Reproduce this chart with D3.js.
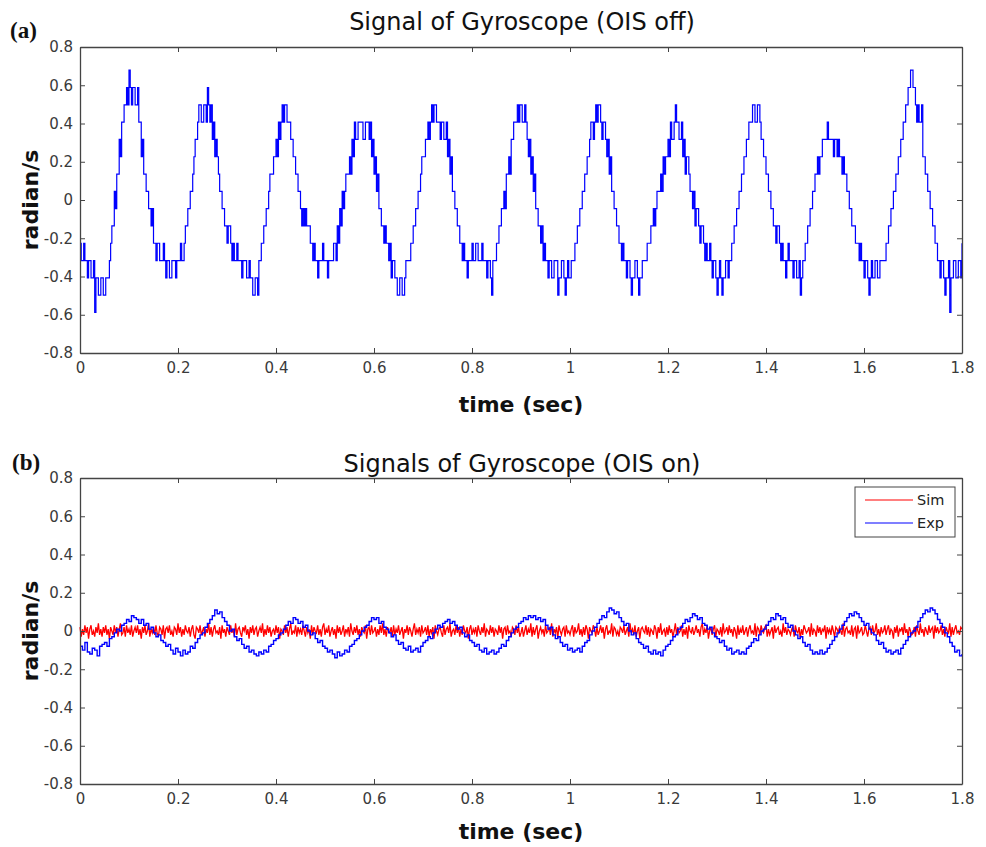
<!DOCTYPE html>
<html>
<head>
<meta charset="utf-8">
<script src="https://cdn.jsdelivr.net/npm/d3@7"></script>
<style>
  body { margin: 0; background: #fff; }
  svg text { font-family: "DejaVu Sans", Arial, sans-serif; }
  .axis path, .axis line { stroke: #444; }
</style>
</head>
<body>
<script>
// tick labels shared by both panels
var xTicks = [0, 0.2, 0.4, 0.6, 0.8, 1, 1.2, 1.4, 1.6, 1.8];
var yTicks = [-0.8, -0.6, -0.4, -0.2, 0, 0.2, 0.4, 0.6, 0.8];

var offStep = 0.0025;     // sec between gyro samples, panel (a)
var expStep = 0.005;      // sec between gyro samples, panel (b)
var simStep = 0.0025;     // sec between simulated samples
var gyroStep = 0.0905;    // rad/s per gyro count

var offCounts = [
  -3,-4,-4,-3,-4,-4,-5,-4,-4,-5,-5,-4,-7,-5,-5,-6,-6,-5,-5,-6,-6,-5,-5,-5,
  -4,-3,-2,-2,0,-1,1,1,3,2,4,4,5,5,
  6,5,7,6,5,6,6,5,5,6,
  4,4,2,3,1,1,0,0,-1,-1,-2,-1,-3,-3,-4,-3,
  -3,-4,-4,-4,-3,-4,-5,-4,-4,-5,-5,-4,-4,-4,-5,-4,-4,-4,-3,-4,
  -4,-3,-2,-2,-1,-1,0,0,1,2,3,3,4,5,5,4,
  4,5,5,4,6,5,4,5,
  3,4,2,3,2,1,0,0,-1,-1,-2,-2,-3,-2,-2,-3,-4,-3,
  -4,-4,-3,-4,-4,-4,-5,-4,-4,-4,-5,-5,-4,-5,-5,-6,-6,-5,-5,-6,-4,-4,
  -3,-3,-2,-2,-1,-1,0,1,1,1,2,2,3,2,4,3,
  4,5,4,5,5,4,4,4,
  3,3,2,2,1,1,0,0,-1,-2,-1,-2,-1,-2,-2,-2,-3,-3,-4,-3,
  -4,-4,-5,-4,-4,-4,-3,-4,-4,-4,-5,-4,-4,-4,-4,-3,-3,-4,
  -2,-3,-1,-2,0,-1,0,1,1,1,2,1,3,2,4,3,
  3,4,4,4,4,3,3,4,4,4,3,4,
  2,3,1,2,0,1,-1,-1,-2,-2,-3,-2,-3,-3,-4,-3,
  -5,-4,-4,-5,-5,-6,-6,-5,-5,-6,-6,-5,-4,-4,-4,-4,
  -3,-3,-2,-2,-1,-1,0,0,1,2,2,2,3,3,4,3,
  4,5,4,5,5,4,4,4,3,4,4,3,3,4,
  2,3,1,2,0,0,-1,-1,-2,-2,-3,-3,-4,-3,
  -4,-4,-5,-4,-4,-4,-3,-4,-4,-3,-3,-4,-4,-4,-3,-4,-4,-4,-5,-4,-4,-5,-6,-4,-4,-4,
  -3,-3,-2,-2,-1,-1,0,-1,1,1,2,1,3,3,4,4,
  4,5,4,5,5,4,4,5,4,3,
  2,3,1,2,0,1,-1,-1,-2,-2,-3,-2,-4,-3,-4,-4,
  -5,-4,-4,-5,-5,-4,-4,-4,-6,-5,-5,-4,-4,-5,-6,-5,-4,-5,-5,-4,-4,-4,
  -3,-3,-2,-2,-1,-1,0,0,1,1,2,2,3,4,4,3,
  4,5,4,5,5,4,3,4,
  4,3,2,3,1,2,0,0,-1,-1,-2,-2,-3,-3,-4,-3,
  -4,-4,-5,-4,-4,-5,-6,-5,-5,-4,-4,-5,-6,-5,-5,-4,-4,-4,-4,-3,-3,-3,
  -2,-2,-1,-2,-1,0,0,0,1,0,2,1,2,2,3,2,4,3,3,4,5,4,
  4,3,3,4,
  2,3,1,2,2,1,0,0,-1,0,-2,-1,-1,-2,-3,-2,-2,-3,-4,-3,
  -4,-4,-3,-4,-5,-4,-4,-5,-6,-5,-4,-5,-6,-5,-5,-4,-4,-5,-4,-4,
  -3,-3,-2,-2,-1,-1,0,0,1,1,2,2,3,3,4,4,4,5,5,4,
  4,5,5,4,
  3,3,2,2,1,1,0,0,-1,-1,-2,-2,-3,-2,-2,-3,-4,-3,
  -4,-4,-5,-4,-3,-4,-4,-4,-5,-4,-4,-5,-5,-4,-6,-5,-4,-4,
  -3,-3,-2,-2,-1,-1,0,0,1,1,2,1,2,2,3,3,
  3,3,4,3,3,3,3,2,3,3,2,3,
  2,2,1,2,1,1,0,0,-1,-1,-2,-2,-2,-3,-3,-3,-4,-3,
  -4,-4,-5,-4,-4,-5,-6,-5,-4,-5,-5,-4,-4,-5,-5,-4,-4,-4,-4,-4,
  -3,-3,-2,-2,-1,-1,0,0,1,1,2,2,3,3,4,4,5,5,6,6,
  7,7,6,6,
  5,4,5,4,4,5,2,2,1,1,0,0,-1,-1,-2,-2,-3,-3,
  -4,-4,-5,-4,-4,-5,-6,-5,-5,-4,-7,-5,-5,-4,-4,-5,-5,-4,-4,-5,-3
];

// (b) OIS on, measured (Exp), rad/s
var expOn = [
  -0.08,-0.10,-0.06,-0.11,-0.12,-0.09,-0.10,-0.13,-0.08,-0.07,
  -0.06,-0.08,-0.04,-0.03,-0.01,0.01,0.00,0.03,0.04,0.06,
  0.05,0.08,0.07,0.06,0.04,0.06,0.03,0.04,0.01,0.02,
  -0.01,-0.03,-0.02,-0.05,-0.06,-0.08,-0.07,-0.10,-0.12,-0.09,
  -0.11,-0.13,-0.10,-0.12,-0.11,-0.08,-0.09,-0.06,-0.04,-0.02,
  -0.01,0.02,0.04,0.06,0.08,0.11,0.09,0.10,0.07,0.05,
  0.03,0.00,0.01,-0.03,-0.05,-0.04,-0.07,-0.09,-0.08,-0.11,
  -0.10,-0.12,-0.13,-0.11,-0.12,-0.10,-0.11,-0.08,-0.07,-0.05,
  -0.04,-0.02,-0.01,0.01,0.03,0.05,0.04,0.07,0.06,0.04,
  0.05,0.02,0.03,0.00,-0.02,-0.01,-0.04,-0.06,-0.05,-0.08,
  -0.09,-0.11,-0.10,-0.12,-0.14,-0.11,-0.13,-0.12,-0.10,-0.11,
  -0.08,-0.07,-0.05,-0.04,-0.02,0.00,0.02,0.03,0.05,0.07,
  0.06,0.07,0.04,0.05,0.02,0.01,-0.01,-0.03,-0.02,-0.05,
  -0.07,-0.06,-0.09,-0.10,-0.08,-0.11,-0.10,-0.09,-0.11,-0.08,
  -0.06,-0.05,-0.03,-0.04,-0.01,0.01,0.03,0.02,0.04,0.05,
  0.06,0.04,0.05,0.03,0.01,0.02,-0.01,-0.03,-0.02,-0.05,
  -0.06,-0.08,-0.07,-0.10,-0.11,-0.09,-0.12,-0.11,-0.10,-0.12,
  -0.11,-0.09,-0.07,-0.08,-0.05,-0.03,-0.01,0.01,0.02,0.04,
  0.05,0.07,0.06,0.08,0.07,0.08,0.06,0.07,0.05,0.06,
  0.03,0.01,0.02,-0.02,-0.04,-0.03,-0.06,-0.08,-0.07,-0.10,
  -0.09,-0.11,-0.10,-0.09,-0.11,-0.08,-0.06,-0.05,-0.02,0.00,
  0.02,0.04,0.06,0.08,0.07,0.10,0.12,0.11,0.09,0.10,
  0.07,0.05,0.03,0.04,0.00,-0.02,-0.01,-0.04,-0.06,-0.07,
  -0.09,-0.08,-0.11,-0.12,-0.10,-0.12,-0.11,-0.13,-0.10,-0.08,
  -0.07,-0.05,-0.03,-0.02,0.01,0.02,0.04,0.06,0.05,0.07,
  0.09,0.08,0.06,0.07,0.04,0.03,0.01,0.02,-0.01,-0.03,
  -0.04,-0.06,-0.05,-0.08,-0.10,-0.09,-0.12,-0.11,-0.10,-0.12,
  -0.11,-0.12,-0.09,-0.08,-0.06,-0.04,-0.05,-0.02,0.00,0.01,
  0.03,0.05,0.07,0.06,0.09,0.08,0.06,0.07,0.04,0.02,
  0.03,0.00,-0.02,-0.04,-0.03,-0.06,-0.08,-0.07,-0.10,-0.12,
  -0.11,-0.12,-0.10,-0.12,-0.11,-0.09,-0.07,-0.05,-0.03,-0.01,
  0.01,0.03,0.05,0.07,0.09,0.08,0.10,0.09,0.07,0.05,
  0.03,0.04,0.01,-0.01,-0.02,-0.05,-0.07,-0.06,-0.09,-0.11,
  -0.10,-0.12,-0.11,-0.10,-0.12,-0.09,-0.07,-0.05,-0.03,-0.01,
  0.00,0.02,0.05,0.07,0.09,0.11,0.10,0.12,0.11,0.09,
  0.06,0.04,0.02,-0.01,-0.03,-0.06,-0.08,-0.11,-0.10,-0.13,-0.12
];

// (b) OIS on, simulated (Sim), rad/s
var simOn = [
  0.02,-0.03,0.01,-0.02,0.03,-0.01,0.02,-0.04,0.01,0.03,-0.02,0.00,-0.03,0.02,-0.01,0.04,-0.02,0.01,-0.03,0.02,
  -0.01,0.03,-0.02,0.01,-0.04,0.02,0.00,-0.02,0.03,-0.01,0.02,-0.03,0.01,0.04,-0.02,-0.01,0.02,-0.03,0.03,-0.01,
  0.01,-0.02,0.03,-0.03,0.00,0.02,-0.01,0.03,-0.02,0.01,-0.04,0.02,-0.01,0.03,-0.02,0.00,0.04,-0.03,0.01,-0.01,
  0.02,-0.02,0.03,-0.01,-0.03,0.02,0.01,-0.02,0.03,-0.04,0.01,0.02,-0.01,0.03,-0.02,0.00,-0.03,0.02,0.01,-0.02,
  0.04,-0.01,0.02,-0.03,0.01,-0.02,0.03,0.00,-0.01,0.02,-0.03,0.01,0.03,-0.02,-0.04,0.02,0.01,-0.01,0.03,-0.02,
  0.00,0.02,-0.03,0.01,-0.01,0.04,-0.02,0.02,-0.03,0.01,0.03,-0.01,0.00,-0.02,0.02,-0.04,0.03,-0.01,0.01,-0.03,
  0.02,0.00,-0.02,0.03,-0.01,0.01,-0.03,0.04,-0.02,0.01,0.02,-0.01,-0.03,0.02,0.00,0.03,-0.02,0.01,-0.04,0.02,
  -0.01,0.03,-0.02,0.01,0.02,-0.03,0.00,0.02,-0.01,0.04,-0.03,0.01,-0.02,0.03,-0.01,0.02,-0.03,0.00,0.01,-0.02,
  0.03,-0.01,0.02,-0.04,0.01,0.00,-0.02,0.03,-0.01,0.02,-0.03,0.01,0.04,-0.02,0.00,-0.01,0.03,-0.03,0.02,-0.01,
  0.01,-0.02,0.03,0.00,-0.03,0.02,-0.01,0.01,-0.04,0.03,-0.02,0.02,0.00,-0.01,0.03,-0.02,0.01,-0.03,0.02,0.04,
  -0.02,0.01,-0.01,0.03,-0.03,0.00,0.02,-0.02,0.01,-0.04,0.03,-0.01,0.02,-0.02,0.00,0.03,-0.03,0.01,-0.01,0.02,
  -0.03,0.04,0.00,-0.02,0.02,-0.01,0.03,-0.02,0.01,-0.03,0.02,0.00,-0.01,0.03,-0.04,0.01,0.02,-0.02,0.03,-0.01,
  0.00,0.02,-0.03,0.01,-0.02,0.03,-0.01,0.04,-0.02,0.01,-0.03,0.02,0.00,-0.01,0.02,-0.03,0.03,-0.02,0.01,-0.01,
  0.03,-0.02,0.00,0.02,-0.04,0.01,-0.01,0.03,-0.02,0.02,0.00,-0.03,0.01,0.04,-0.02,0.01,-0.01,0.02,-0.03,0.03,
  -0.01,0.00,0.02,-0.02,0.03,-0.03,0.01,-0.01,0.02,-0.04,0.03,0.00,-0.02,0.01,0.02,-0.01,-0.03,0.03,-0.02,0.01,
  0.02,-0.01,0.04,-0.03,0.00,0.01,-0.02,0.03,-0.01,0.02,-0.03,0.01,-0.02,0.03,0.00,-0.01,0.02,-0.04,0.01,0.03,
  -0.02,0.01,-0.01,0.02,-0.03,0.03,0.00,-0.02,0.02,-0.01,0.04,-0.03,0.01,0.00,-0.02,0.03,-0.01,0.02,-0.03,0.01,
  0.00,-0.02,0.03,-0.01,0.02,-0.04,0.01,0.02,-0.02,0.03,-0.01,0.00,-0.03,0.02,0.01,-0.02,0.03,-0.01,0.02,-0.03,
  -0.01,0.02,-0.03,0.00,0.03,-0.02,0.01,-0.01,0.04,-0.03,0.02,-0.02,0.01,0.03,-0.04,0.00,0.02,-0.01,0.01,-0.03,
  0.03,-0.01,0.00,0.02,-0.02,0.04,-0.03,0.01,-0.01,0.02,-0.04,0.03,0.00,-0.02,0.01,0.02,-0.03,0.03,-0.01,0.00,
  -0.02,0.01,0.03,-0.03,0.02,-0.01,0.00,0.04,-0.02,0.01,-0.03,0.02,-0.02,0.03,0.01,-0.04,0.02,0.00,-0.01,0.03,
  0.01,-0.03,0.02,-0.02,0.00,0.03,-0.01,0.02,-0.04,0.01,0.03,-0.02,0.00,-0.01,0.04,-0.03,0.02,0.01,-0.02,0.00,
  -0.03,0.02,0.01,-0.01,0.03,-0.02,0.00,0.02,-0.03,0.04,-0.01,0.01,-0.02,0.03,-0.03,0.00,0.02,-0.04,0.01,0.02,
  0.00,-0.01,0.03,-0.02,0.02,-0.03,0.01,0.00,-0.02,0.03,0.01,-0.04,0.02,-0.01,0.04,-0.02,0.00,0.01,-0.03,0.02,
  -0.02,0.03,-0.01,0.01,-0.03,0.00,0.04,-0.02,0.02,-0.01,0.00,0.03,-0.03,0.01,-0.02,0.02,-0.04,0.03,0.00,-0.01,
  0.02,-0.02,0.00,0.03,-0.01,0.01,-0.03,0.02,0.04,-0.02,0.01,-0.01,0.03,-0.04,0.00,0.02,-0.02,0.01,0.03,-0.03,
  0.01,0.00,-0.02,0.02,-0.03,0.04,-0.01,0.00,0.02,-0.02,0.03,-0.01,0.01,-0.03,0.02,0.00,-0.04,0.03,-0.02,0.01,
  -0.01,0.03,-0.02,0.00,0.02,-0.03,0.01,0.03,-0.01,0.00,-0.02,0.04,-0.03,0.02,0.01,-0.02,0.03,0.00,-0.01,0.02,
  0.03,-0.03,0.01,-0.02,0.00,0.02,-0.04,0.03,-0.01,0.01,0.02,-0.02,0.00,-0.03,0.04,-0.01,0.02,-0.02,0.01,0.00,
  -0.02,0.01,0.02,-0.03,0.03,0.00,-0.01,0.02,-0.04,0.01,-0.02,0.03,0.01,-0.01,0.00,0.02,-0.03,0.04,-0.02,0.01,
  0.00,-0.03,0.03,-0.01,0.02,-0.02,0.01,0.00,0.03,-0.04,0.02,-0.01,0.01,-0.02,0.03,0.00,-0.03,0.02,0.01,-0.01,
  0.02,0.00,-0.02,0.04,-0.03,0.01,0.02,-0.01,0.00,-0.02,0.03,-0.03,0.01,0.02,-0.04,0.03,-0.01,0.00,0.02,-0.02,
  -0.01,0.03,0.00,-0.03,0.01,0.02,-0.02,0.03,-0.01,0.00,0.04,-0.02,0.01,-0.03,0.02,-0.01,0.00,0.03,-0.02,0.01,
  0.03,-0.02,0.01,0.00,-0.04,0.02,-0.01,0.03,-0.03,0.01,0.00,0.02,-0.02,0.04,-0.01,0.01,-0.03,0.02,0.00,-0.02,
  -0.01,0.02,-0.03,0.03,0.00,-0.02,0.04,-0.01,0.01,-0.03,0.02,0.00,-0.02,0.03,-0.01,0.01,0.02,-0.04,0.03,-0.01,
  0.02,-0.01,0.00,0.03,-0.02,0.01,-0.03,0.02,0.00,-0.01,0.04,-0.03,0.02,-0.02,0.01,0.03,-0.01,0.00,-0.02,0.02,
  0.01
];

var width = 986, height = 847;
var left = 80, right = 962;

var svg = d3.select("body").append("svg")
  .attr("width", width)
  .attr("height", height);

var fmt = function (d){ return String(+d.toFixed(1)); };

function toSeries(values, step){
  return values.map(function (v, i){ return { t: i * step, v: v }; });
}

function styleTicks(g){
  g.attr("font-size", 15).attr("font-family", "'DejaVu Sans', Arial, sans-serif");
  g.selectAll(".tick text").attr("fill", "#3a3a3a");
}

function drawPanel(p){
  var xScale = d3.scaleLinear().domain([0, 1.8]).range([left, right]);
  var yScale = d3.scaleLinear().domain([-0.8, 0.8]).range([p.bottom, p.top]);

  var line = d3.line()
    .x(function (d){ return xScale(d.t); })
    .y(function (d){ return yScale(d.v); });

  p.series.forEach(function (s){
    svg.append("path")
      .datum(s.data)
      .attr("fill", "none")
      .attr("stroke", s.color)
      .attr("stroke-width", s.width)
      .attr("d", line.curve(s.curve));
  });

  svg.append("g").attr("class", "axis")
    .attr("transform", "translate(0," + p.bottom + ")")
    .call(d3.axisBottom(xScale).tickValues(xTicks).tickFormat(fmt)
      .tickSizeInner(-5).tickSizeOuter(0).tickPadding(9))
    .call(styleTicks);
  svg.append("g").attr("class", "axis")
    .attr("transform", "translate(0," + p.top + ")")
    .call(d3.axisTop(xScale).tickValues(xTicks).tickFormat("")
      .tickSizeInner(-5).tickSizeOuter(0));
  svg.append("g").attr("class", "axis")
    .attr("transform", "translate(" + left + ",0)")
    .call(d3.axisLeft(yScale).tickValues(yTicks).tickFormat(fmt)
      .tickSizeInner(-5).tickSizeOuter(0).tickPadding(7))
    .call(styleTicks);
  svg.append("g").attr("class", "axis")
    .attr("transform", "translate(" + right + ",0)")
    .call(d3.axisRight(yScale).tickValues(yTicks).tickFormat("")
      .tickSizeInner(-5).tickSizeOuter(0));
  svg.selectAll(".axis .domain").attr("stroke-width", 1.3);

  svg.append("text")
    .attr("x", (left + right) / 2 + 1).attr("y", p.titleY)
    .attr("text-anchor", "middle")
    .style("font-size", "24px").style("fill", "#111")
    .text(p.title);

  svg.append("text")
    .attr("x", (left + right) / 2).attr("y", p.xlabelY)
    .attr("text-anchor", "middle")
    .style("font-size", "22px").style("font-weight", "bold").style("fill", "#111")
    .text("time (sec)");

  svg.append("text")
    .attr("transform", "translate(38," + (p.top + p.bottom) / 2 + ") rotate(-90)")
    .attr("text-anchor", "middle")
    .style("font-size", "22px").style("font-weight", "bold").style("fill", "#111")
    .text("radian/s");

  svg.append("text")
    .attr("x", p.tagX).attr("y", p.tagY)
    .style("font-family", "'Liberation Serif', 'Times New Roman', serif")
    .style("font-size", "23px").style("font-weight", "bold").style("fill", "#111")
    .text(p.tag);

  return { x: xScale, y: yScale };
}

drawPanel({
  top: 47, bottom: 353, title: "Signal of Gyroscope (OIS off)", tag: "(a)",
  titleY: 30, xlabelY: 412, tagX: 10, tagY: 38,
  series: [
    { data: toSeries(offCounts.map(function (k){ return (k + 0.5) * gyroStep; }), offStep),
      color: "#0000ff", curve: d3.curveStepAfter, width: 1.2 }
  ]
});

drawPanel({
  top: 478, bottom: 784, title: "Signals of Gyroscope (OIS on)", tag: "(b)",
  titleY: 472, xlabelY: 839, tagX: 12, tagY: 470,
  series: [
    { data: toSeries(simOn, simStep), color: "#ff0000", curve: d3.curveLinear, width: 1.3 },
    { data: toSeries(expOn, expStep), color: "#0000ff", curve: d3.curveStepAfter, width: 1.4 }
  ]
});

// legend for (b)
var legend = svg.append("g").attr("transform", "translate(855,487)");
legend.append("rect")
  .attr("width", 100).attr("height", 50)
  .attr("fill", "#fff").attr("stroke", "#444").attr("stroke-width", 1);
var legendItems = [{ name: "Sim", color: "#ff0000" }, { name: "Exp", color: "#0000ff" }];
legendItems.forEach(function (d, i){
  var y = 13 + i * 23;
  legend.append("line")
    .attr("x1", 10).attr("x2", 58).attr("y1", y).attr("y2", y)
    .attr("stroke", d.color).attr("stroke-width", 1.2);
  legend.append("text")
    .attr("x", 62).attr("y", y + 5)
    .style("font-size", "14.5px").style("fill", "#222")
    .text(d.name);
});
</script>
</body>
</html>
